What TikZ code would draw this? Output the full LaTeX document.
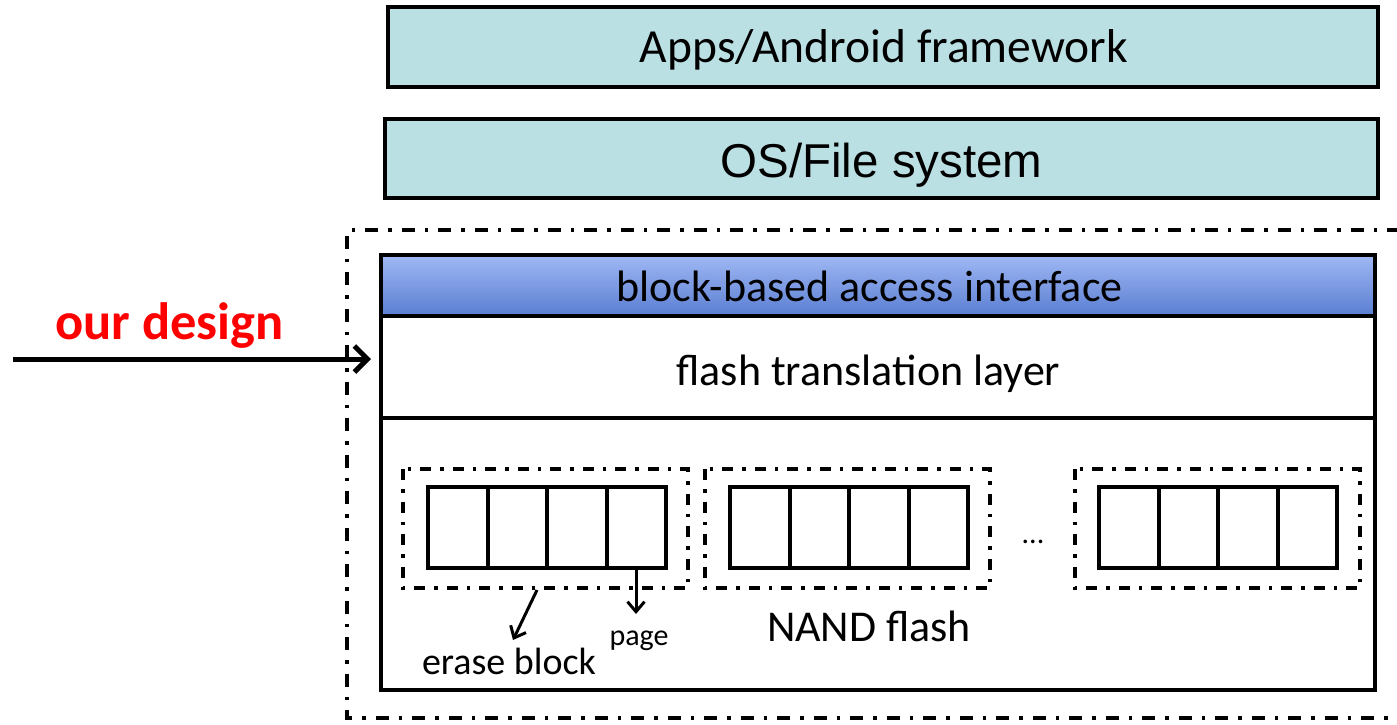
\documentclass[tikz,border=0pt]{standalone}
\usepackage{fontspec}
\setmainfont{Carlito}
\newfontfamily\arialf{Liberation Sans}
\usetikzlibrary{arrows.meta}
\definecolor{teal1}{HTML}{BBE0E3}
\definecolor{hdrtop}{HTML}{A0B8F4}
\definecolor{hdrbot}{HTML}{5A7ED2}
\tikzset{
  layerbox/.style={draw=black, line width=3.2pt, fill=teal1, inner sep=0pt},
  dashdot/.style={draw=black, line width=3.4pt, dash pattern=on 13pt off 10pt on 3.5pt off 10pt},
  grpbox/.style={draw=black, line width=3.2pt, dash pattern=on 11pt off 9pt on 3.5pt off 9pt},
  cellbox/.style={draw=black, line width=4pt, minimum width=59.5pt, minimum height=81pt, inner sep=0pt},
  lbl/.style={anchor=base, inner sep=0pt},
  thinarrow/.style={draw=black, line width=3pt, -{Straight Barb[length=10pt,width=17pt,line width=3pt]}},
}
\begin{document}
\begin{tikzpicture}[x=1pt,y=-1pt]
\useasboundingbox (0,0) rectangle (1397,724);
% top layers
\node[layerbox, minimum width=990pt, minimum height=80pt] (apps) at (883,47) {};
\node[lbl, font=\fontsize{47.5}{50}\selectfont] (appst) at (884,62) {Apps/Android framework};
\node[layerbox, minimum width=993pt, minimum height=79pt] (os) at (881.5,158.5) {};
\node[lbl, font=\arialf\fontsize{47.5}{50}\selectfont] (ost) at (881.5,177) {OS/File system};
% outer dash-dot region
\draw[dashdot] (1400,230) -- (347,230) -- (347,718) -- (1400,718);
% inner box
\shade[top color=hdrtop, bottom color=hdrbot] (381,255) rectangle (1375,316);
\node[draw=black, line width=3.8pt, minimum width=994pt, minimum height=435pt, inner sep=0pt] (inner) at (878,472.5) {};
\draw[line width=3.8pt] (381,316) -- (1375,316);
\draw[line width=3.4pt] (381,418) -- (1375,418);
\node[lbl, font=\fontsize{44}{46}\selectfont] (bbai) at (869.5,301) {block-based access interface};
\node[lbl, font=\fontsize{44}{46}\selectfont] (ftl) at (868.5,385.5) {flash translation layer};
% erase block groups
\foreach \gx/\cx/\n in {403/428/1, 705/730/2, 1075/1099/3} {
  \draw[grpbox] (\gx,469) rectangle ({\gx+285},588);
  \foreach \k in {0,1,2,3} {
    \node[cellbox] (c\n\k) at ({\cx+29.75+59.5*\k},527) {};
  }
}
\node[lbl, font=\fontsize{30}{32}\selectfont] (dots) at (1033,543) {...};
\node[lbl, font=\fontsize{44}{46}\selectfont] (nand) at (869,641) {NAND flash};
\node[lbl, font=\fontsize{38}{40}\selectfont] (erase) at (509,674) {erase block};
\node[lbl, font=\fontsize{30}{32}\selectfont] (page) at (639,645) {page};
\coordinate (ebs) at (537,590);
\coordinate (ebe) at (513,640);
\draw[thinarrow] (ebs) -- (ebe);
\draw[thinarrow] (c13.south -| 636,0) -- (636,614);
% our design
\node[lbl, font=\bfseries\fontsize{52.5}{54}\selectfont, text=red] (our) at (169.5,339) {our design};
\coordinate (ostart) at (13,359);
\draw[line width=5pt, -{Straight Barb[length=13pt,width=26pt,line width=5pt]}] (ostart) -- (371,359);
\end{tikzpicture}
\end{document}
